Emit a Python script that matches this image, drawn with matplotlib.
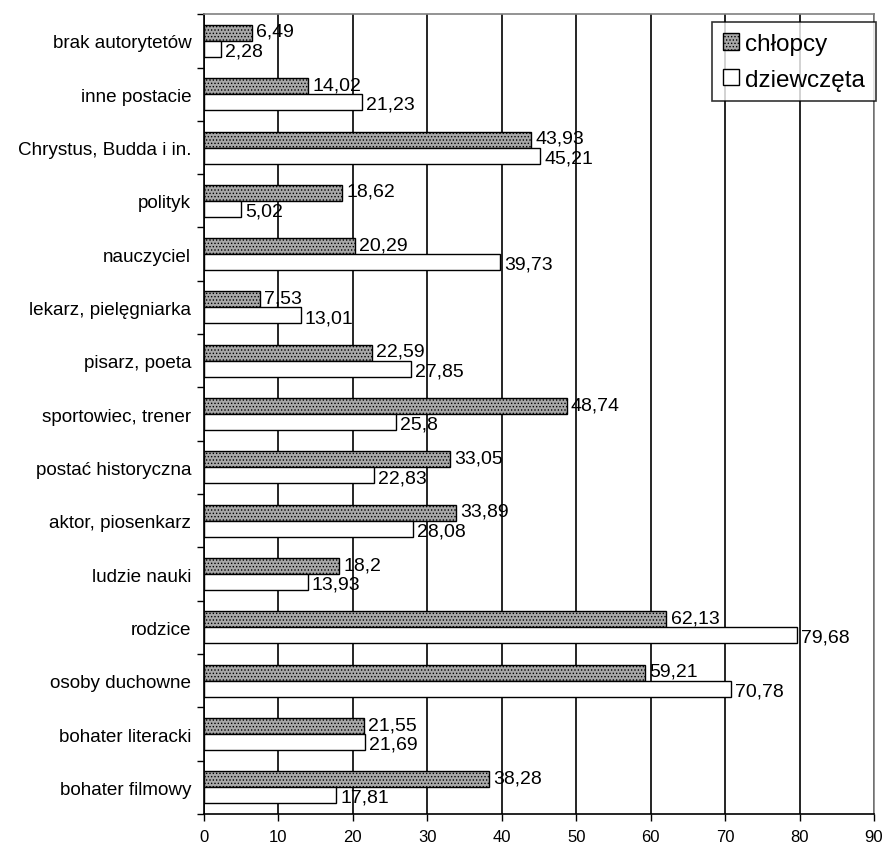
import numpy as np
import matplotlib.pyplot as plt

plt.rcParams['font.family'] = ['Liberation Sans', 'DejaVu Sans']
plt.rcParams['hatch.color'] = '#6e6e6e'
plt.rcParams['hatch.linewidth'] = 0.6

# categories listed bottom to top
categories = ['bohater filmowy', 'bohater literacki', 'osoby duchowne', 'rodzice',
              'ludzie nauki', 'aktor, piosenkarz', 'postać historyczna',
              'sportowiec, trener', 'pisarz, poeta', 'lekarz, pielęgniarka',
              'nauczyciel', 'polityk', 'Chrystus, Budda i in.', 'inne postacie',
              'brak autorytetów']
chlopcy = [38.28, 21.55, 59.21, 62.13, 18.2, 33.89, 33.05, 48.74, 22.59, 7.53,
           20.29, 18.62, 43.93, 14.02, 6.49]
dziewczeta = [17.81, 21.69, 70.78, 79.68, 13.93, 28.08, 22.83, 25.8, 27.85, 13.01,
              39.73, 5.02, 45.21, 21.23, 2.28]
xticks = list(range(0, 91, 10))


def fmt(v):
    return str(v).replace('.', ',')


fig = plt.figure(figsize=(8.86, 8.45), dpi=100)
ax = fig.add_axes([0.230, 0.0355, 0.7565, 0.9465])

y = np.arange(len(categories))
h = 0.30
b1 = ax.barh(y + h / 2, chlopcy, height=h, color='#a8a8a8', edgecolor='black',
             linewidth=1.0, hatch='.....', label='chłopcy', zorder=3)
b2 = ax.barh(y - h / 2, dziewczeta, height=h, color='white', edgecolor='black',
             linewidth=1.0, label='dziewczęta', zorder=3)

# value labels, the upper series nudged up and the lower one down
for bars, vals, dy in ((b1, chlopcy, 1.0), (b2, dziewczeta, -1.5)):
    for bar, v in zip(bars, vals):
        ax.annotate(fmt(v), (bar.get_width(), bar.get_y() + bar.get_height() / 2),
                    xytext=(3, dy), textcoords='offset points', ha='left',
                    va='center', fontsize=14, zorder=4)

ax.set_xlim(0, 90)
ax.set_ylim(-0.5, len(categories) - 0.5)
ax.set_xticks(xticks)
ax.set_xticklabels([str(t) for t in xticks], fontsize=12)
ax.set_yticks(y)
ax.set_yticklabels(categories, fontsize=13.6)
ax.set_yticks(np.arange(-0.5, len(categories)), minor=True)
ax.tick_params(axis='y', which='major', length=0, pad=9)
ax.tick_params(axis='y', which='minor', length=5, width=1, direction='out')
ax.tick_params(axis='x', length=5, width=1, direction='out', pad=6)

ax.grid(axis='x', color='black', linewidth=1.2, zorder=0)
ax.set_axisbelow(True)
for side in ('top', 'right'):
    ax.spines[side].set_color('#808080')
    ax.spines[side].set_linewidth(1.2)
for side in ('left', 'bottom'):
    ax.spines[side].set_linewidth(1.2)

leg = ax.legend(loc='upper right', bbox_to_anchor=(1.003, 0.99), fontsize=17.5,
                frameon=True, fancybox=False, edgecolor='black',
                handlelength=0.66, handleheight=0.66, handletextpad=0.25,
                borderpad=0.45, labelspacing=0.55, borderaxespad=0.0)
leg.get_frame().set_linewidth(1.2)

fig.savefig('out.png', dpi=100)
